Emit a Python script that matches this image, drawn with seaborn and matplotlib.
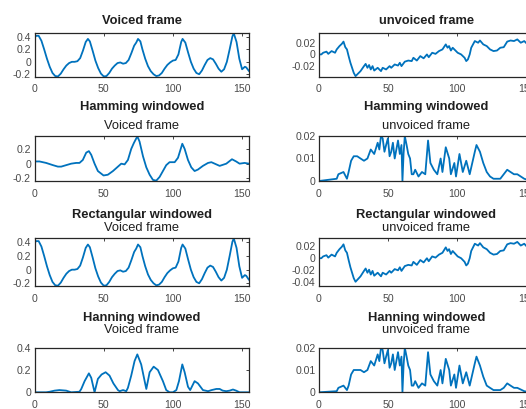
import matplotlib
matplotlib.use("Agg")
import matplotlib.pyplot as plt
import seaborn as sns

# ---- data -----------------------------------------------------------------
voiced_x = [0, 1, 3, 5, 7, 9, 11, 13, 15, 17, 19, 21, 23, 25, 27, 29, 31, 33, 35, 37,
            38.6, 40, 42, 44, 46, 48, 50, 52, 54, 56, 58, 60, 62, 64, 66, 68, 70, 72,
            73.5, 74.8, 76.5, 78, 80, 82, 84, 86, 88, 90, 92, 94, 96, 98, 100, 102,
            104, 106, 107, 109, 111, 113, 115, 117, 119, 121, 123, 125, 127, 129, 131,
            133, 135, 137, 139, 141, 143, 144, 146, 148, 150, 152, 153, 155]
voiced_y = [0.38, 0.42, 0.42, 0.34, 0.20, 0.05, -0.08, -0.18, -0.23, -0.235, -0.19,
            -0.12, -0.06, -0.02, 0.0, 0.0, 0.01, 0.06, 0.18, 0.32, 0.37, 0.33, 0.18,
            0.02, -0.10, -0.19, -0.235, -0.23, -0.18, -0.11, -0.06, -0.02, -0.01,
            -0.03, -0.02, 0.03, 0.14, 0.26, 0.31, 0.37, 0.33, 0.20, 0.05, -0.07,
            -0.15, -0.20, -0.23, -0.22, -0.18, -0.11, -0.05, -0.01, 0.02, 0.03, 0.12,
            0.32, 0.37, 0.31, 0.15, 0.0, -0.11, -0.18, -0.20, -0.14, -0.05, 0.03,
            0.06, 0.04, -0.03, -0.11, -0.16, -0.12, 0.0, 0.20, 0.41, 0.46, 0.32,
            0.05, -0.12, -0.08, -0.09, -0.15]

unvoiced_x = [0, 1.7, 3, 5.4, 6.7, 9.1, 11.6, 12.8, 14.8, 16.5, 17.7, 19, 20.2, 21.4,
              22.7, 23.9, 25.1, 26.4, 27.6, 30, 32.5, 33.7, 35, 36.2, 37.4, 38.7, 39.9,
              42.4, 44.8, 46, 48.5, 51, 52.2, 54.7, 57.1, 58.4, 59.6, 62, 64.5, 67,
              68.2, 70.7, 73.2, 75.6, 78, 79.3, 81.8, 84.2, 86.7, 89.2, 91.6, 92.9, 94,
              95.3, 96.6, 99, 100.2, 102.7, 105.2, 106.4, 107.6, 108.9, 110, 112.6,
              115, 116.3, 118.7, 121.2, 123.6, 126.1, 128.6, 131, 133.5, 136, 138.4,
              140.9, 143.3, 145.8, 148.3, 150.7, 153.2, 155]
unvoiced_y = [0.0, 0.0, 0.003, 0.005, 0.001, 0.006, 0.003, 0.009, 0.015, 0.019, 0.023,
              0.013, 0.009, -0.003, -0.015, -0.024, -0.033, -0.039, -0.036, -0.030,
              -0.021, -0.017, -0.024, -0.019, -0.027, -0.021, -0.029, -0.024, -0.030,
              -0.024, -0.027, -0.021, -0.024, -0.018, -0.020, -0.015, -0.021, -0.013,
              -0.011, -0.012, -0.006, -0.011, -0.003, -0.007, 0.0, -0.005, 0.003,
              0.001, 0.006, 0.009, 0.018, 0.012, 0.015, 0.007, 0.012, 0.006, 0.003,
              0.0, -0.006, -0.012, -0.009, 0.0, 0.012, 0.024, 0.021, 0.025, 0.018,
              0.015, 0.009, 0.006, 0.007, 0.012, 0.013, 0.023, 0.025, 0.024, 0.027,
              0.021, 0.024, 0.018, 0.021, 0.020]

hamming_voiced_x = [0, 3.6, 8.4, 13.3, 16.9, 19.3, 22.9, 26.5, 30.1, 32.5, 34.9, 37.4,
                    39.3, 41, 43.4, 45.8, 49.9, 53, 56.7, 60.3, 62.7, 65.1, 67.5, 69.9,
                    71.8, 74.3, 75.9, 78.4, 80.8, 83.2, 85.6, 88, 90.4, 92.8, 95.2,
                    97.6, 101.3, 103.7, 106.8, 108.5, 110.9, 113.3, 115.7, 118.1,
                    121.7, 125.4, 127.8, 131.4, 133.8, 138.6, 142.7, 145.7, 148.2,
                    151.8, 155]
hamming_voiced_y = [0.03, 0.03, 0.01, -0.02, -0.04, -0.04, -0.02, 0.0, 0.01, 0.01, 0.05,
                    0.15, 0.17, 0.12, 0.0, -0.10, -0.16, -0.15, -0.10, -0.04, 0.0,
                    -0.01, 0.05, 0.20, 0.28, 0.37, 0.30, 0.10, -0.05, -0.15, -0.22,
                    -0.23, -0.18, -0.10, -0.02, 0.02, 0.02, 0.08, 0.27, 0.20, 0.05,
                    -0.05, -0.10, -0.08, -0.03, 0.01, 0.02, -0.01, -0.03, 0.0, 0.06,
                    0.03, 0.0, 0.01, 0.0]

hamming_unvoiced_x = [0, 12.8, 14, 17.7, 20.2, 21.4, 23.2, 25.1, 27.6, 30, 32.5, 35,
                      37.4, 39.9, 42.4, 43.6, 44.8, 46, 47.3, 48.5, 49.8, 51, 52.2,
                      53.4, 54.7, 55.9, 57.1, 58.4, 59.6, 60.3, 61.1, 62, 63.3, 64.5,
                      65.8, 67, 68.2, 69.5, 71.9, 74.4, 76.8, 78.8, 80.5, 83, 85.5,
                      87.9, 89.2, 91.6, 94.1, 95.3, 97.8, 99, 101.5, 103.9, 106.4,
                      108.9, 112.6, 113.8, 116.3, 118.7, 121.2, 123.6, 126.1, 131,
                      133.5, 136, 138.4, 140.9, 143.3, 148.3, 153.2, 155]
hamming_unvoiced_y = [0.0, 0.001, 0.003, 0.004, 0.001, 0.004, 0.009, 0.011, 0.011,
                      0.010, 0.009, 0.010, 0.014, 0.012, 0.017, 0.014, 0.020, 0.019,
                      0.013, 0.016, 0.019, 0.011, 0.013, 0.017, 0.010, 0.014, 0.018,
                      0.012, 0.016, 0.0, 0.012, 0.020, 0.016, 0.012, 0.010, 0.003,
                      0.003, 0.005, 0.002, 0.004, 0.003, 0.018, 0.008, 0.005, 0.003,
                      0.010, 0.004, 0.015, 0.010, 0.003, 0.008, 0.002, 0.012, 0.004,
                      0.009, 0.003, 0.013, 0.016, 0.013, 0.008, 0.004, 0.002, 0.001,
                      0.001, 0.003, 0.005, 0.004, 0.003, 0.003, 0.001, 0.0, 0.0]

hanning_voiced_x = [0, 8.4, 11, 14.5, 18, 22.9, 26.5, 32.5, 33.8, 36.2, 39.3, 41, 43.4,
                    45.8, 48.5, 51.4, 54.2, 57, 60.3, 61.5, 64, 66.3, 67.5, 69.9, 72.3,
                    74.3, 77.1, 79.6, 80.8, 83.2, 86.1, 89.2, 92.8, 95.2, 97.6, 100,
                    102.5, 104.4, 106.8, 108.5, 110.9, 112.5, 115.7, 118.1, 121.7,
                    125.4, 128, 131.4, 133.8, 136, 138.6, 141, 143.4, 145.7, 148.2, 155]
hanning_voiced_y = [0.0, 0.0, 0.005, 0.015, 0.02, 0.015, 0.0, 0.005, 0.03, 0.10, 0.17,
                    0.13, 0.0, 0.12, 0.16, 0.18, 0.15, 0.08, 0.02, 0.01, 0.02, 0.01,
                    0.04, 0.15, 0.28, 0.34, 0.25, 0.10, 0.03, 0.18, 0.23, 0.20, 0.10,
                    0.02, 0.0, 0.0, 0.02, 0.10, 0.25, 0.18, 0.05, 0.02, 0.10, 0.08,
                    0.02, 0.01, 0.02, 0.03, 0.03, 0.015, 0.01, 0.015, 0.025, 0.015,
                    0.0, 0.0]

hanning_unvoiced_x = hamming_unvoiced_x
hanning_unvoiced_y = [0.0, 0.0005, 0.002, 0.003, 0.001, 0.003, 0.008, 0.010, 0.010,
                      0.010, 0.009, 0.010, 0.014, 0.012, 0.017, 0.014, 0.020, 0.019,
                      0.013, 0.016, 0.019, 0.011, 0.013, 0.017, 0.010, 0.014, 0.018,
                      0.012, 0.016, 0.0, 0.012, 0.020, 0.016, 0.012, 0.010, 0.003,
                      0.003, 0.005, 0.002, 0.004, 0.003, 0.018, 0.008, 0.005, 0.003,
                      0.010, 0.004, 0.015, 0.010, 0.003, 0.008, 0.002, 0.012, 0.004,
                      0.009, 0.003, 0.013, 0.016, 0.012, 0.007, 0.003, 0.002, 0.001,
                      0.001, 0.002, 0.004, 0.003, 0.002, 0.002, 0.0005, 0.0, 0.0]

x_ticks = [0, 50, 100, 150]

# ---- style ----------------------------------------------------------------
sns.set_theme(style="white")
plt.rcParams["font.family"] = ["Liberation Sans", "DejaVu Sans"]

LINE = "#0072BD"
AXIS = "#262626"
LABEL = "#4a4a4a"
W, H = 526, 409

fig = plt.figure(figsize=(W / 100, H / 100), dpi=100)


def px_rect(x0, y0, x1, y1):
    return [x0 / W, 1 - y1 / H, (x1 - x0) / W, (y1 - y0) / H]


def panel(rect, xs, ys, ylim, yticks):
    ax = fig.add_axes(rect)
    sns.lineplot(x=xs, y=ys, ax=ax, color=LINE, linewidth=1.3)
    ax.set_xlim(0, 155)
    ax.set_ylim(*ylim)
    ax.set_xticks(x_ticks)
    ax.set_xticklabels([str(t) for t in x_ticks])
    ax.set_yticks(yticks)
    ax.set_yticklabels([("%g" % t) for t in yticks])
    ax.set_xlabel("")
    ax.set_ylabel("")
    ax.tick_params(direction="in", length=2, width=0.6, top=True, right=True,
                   color=AXIS, labelcolor=LABEL, labelsize=7.6)
    ax.tick_params(axis="x", pad=5.5)
    ax.tick_params(axis="y", pad=2.5)
    for s in ax.spines.values():
        s.set_visible(True)
        s.set_color(AXIS)
        s.set_linewidth(0.9)
    return ax


rows = [(32.7, 76.7), (136, 181), (237.7, 286), (347.7, 392.3)]
LX0, LX1 = 34.5, 249
RX0, RX1 = 319, 533.5

left_data = [
    (voiced_x, voiced_y, (-0.24, 0.47), [-0.2, 0, 0.2, 0.4]),
    (hamming_voiced_x, hamming_voiced_y, (-0.235, 0.375), [-0.2, 0, 0.2]),
    (voiced_x, voiced_y, (-0.24, 0.47), [-0.2, 0, 0.2, 0.4]),
    (hanning_voiced_x, hanning_voiced_y, (0, 0.4), [0, 0.2, 0.4]),
]
right_data = [
    (unvoiced_x, unvoiced_y, (-0.04, 0.039), [-0.02, 0, 0.02]),
    (hamming_unvoiced_x, hamming_unvoiced_y, (0, 0.02), [0, 0.01, 0.02]),
    (unvoiced_x, unvoiced_y, (-0.046, 0.034), [-0.04, -0.02, 0, 0.02]),
    (hanning_unvoiced_x, hanning_unvoiced_y, (0, 0.02), [0, 0.01, 0.02]),
]

for (y0, y1), ld, rd in zip(rows, left_data, right_data):
    panel(px_rect(LX0, y0, LX1, y1), *ld)
    panel(px_rect(RX0, y0, RX1, y1), *rd)

# ---- titles ---------------------------------------------------------------
TITLE = "#1f1f1f"
lc = (LX0 + LX1) / 2 / W
rc = (RX0 + RX1) / 2 / W


def ftext(xc, ypx, s, bold):
    fig.text(xc, 1 - ypx / H, s, ha="center", va="center", fontsize=9.3,
             fontweight="bold" if bold else "normal", color=TITLE)


ftext(lc, 20.7, "Voiced frame", True)
ftext(rc, 20.7, "unvoiced frame", True)

for (head, yh, ys) in [("Hamming windowed", 107.3, 126),
                       ("Rectangular windowed", 215, 227.7),
                       ("Hanning windowed", 318.3, 330)]:
    ftext(lc, yh, head, True)
    ftext(rc, yh, head, True)
    ftext(lc, ys, "Voiced frame", False)
    ftext(rc, ys, "unvoiced frame", False)

fig.savefig("out.png", dpi=100)
